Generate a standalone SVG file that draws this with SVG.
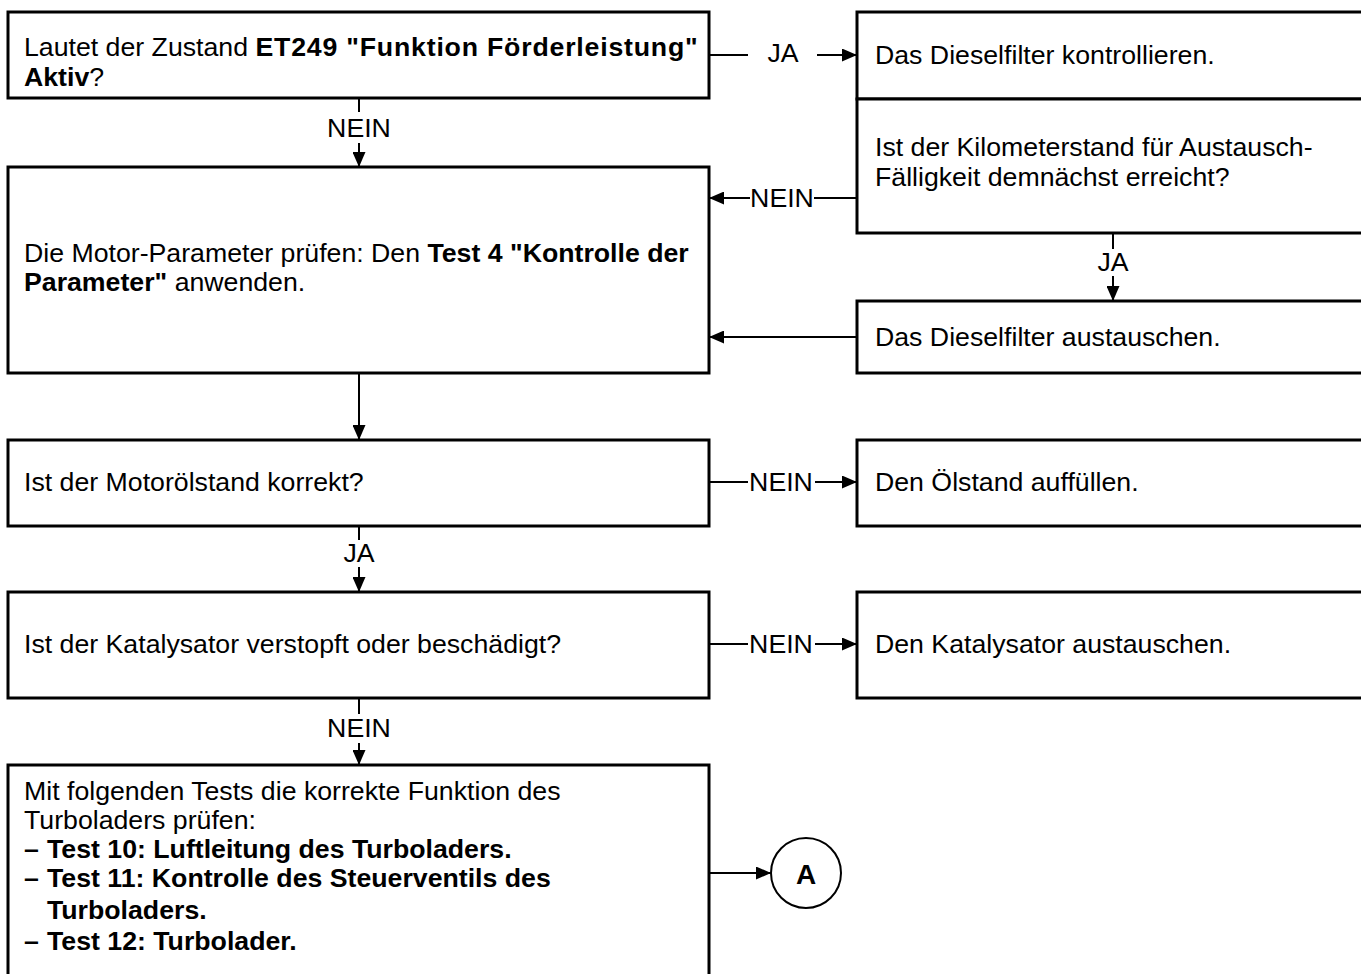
<svg xmlns="http://www.w3.org/2000/svg" width="1361" height="974" viewBox="0 0 1361 974">
  <style>
    .box { fill: #ffffff; stroke: #000000; stroke-width: 3; }
    .wire { fill: none; stroke: #000000; stroke-width: 2; }
    .t { font-family: "Liberation Sans", Arial, sans-serif; font-size: 26.7px; fill: #000000; }
    .b { font-weight: bold; }
    .lbl { font-family: "Liberation Sans", Arial, sans-serif; font-size: 26.7px; fill: #000000; text-anchor: middle; dominant-baseline: central; }
  </style>
  <defs>
    <marker id="head" viewBox="0 0 15 13" refX="15" refY="6.5" markerWidth="15" markerHeight="13" markerUnits="userSpaceOnUse" orient="auto">
      <path d="M0,0 L15,6.5 L0,13 Z" fill="#000000"/>
    </marker>
  </defs>
  <rect width="1361" height="974" fill="#ffffff"/>

  <!-- decision: ET249 state -->
  <g id="q-et249">
    <rect class="box" x="8" y="12" width="701" height="86"/>
    <text class="t" x="24" y="56">Lautet der Zustand <tspan class="b" style="letter-spacing:0.8px">ET249 "Funktion Förderleistung"</tspan></text>
    <text class="t" x="24" y="86"><tspan class="b">Aktiv</tspan>?</text>
  </g>

  <g id="a-filter-check">
    <rect class="box" x="857" y="12" width="520" height="87"/>
    <text class="t" x="875" y="64">Das Dieselfilter kontrollieren.</text>
  </g>

  <g id="q-mileage">
    <rect class="box" x="857" y="99" width="520" height="134"/>
    <text class="t" x="875" y="156">Ist der Kilometerstand für Austausch-</text>
    <text class="t" x="875" y="186">Fälligkeit demnächst erreicht?</text>
  </g>

  <g id="a-params">
    <rect class="box" x="8" y="167" width="701" height="206"/>
    <text class="t" x="24" y="262">Die Motor-Parameter prüfen: Den <tspan class="b">Test 4 "Kontrolle der</tspan></text>
    <text class="t" x="24" y="291"><tspan class="b">Parameter"</tspan> anwenden.</text>
  </g>

  <g id="a-filter-replace">
    <rect class="box" x="857" y="301" width="520" height="72"/>
    <text class="t" x="875" y="346">Das Dieselfilter austauschen.</text>
  </g>

  <g id="q-oil">
    <rect class="box" x="8" y="440" width="701" height="86"/>
    <text class="t" x="24" y="491">Ist der Motorölstand korrekt?</text>
  </g>

  <g id="a-oil">
    <rect class="box" x="857" y="440" width="520" height="86"/>
    <text class="t" x="875" y="491">Den Ölstand auffüllen.</text>
  </g>

  <g id="q-catalyst">
    <rect class="box" x="8" y="592" width="701" height="106"/>
    <text class="t" x="24" y="653">Ist der Katalysator verstopft oder beschädigt?</text>
  </g>

  <g id="a-catalyst">
    <rect class="box" x="857" y="592" width="520" height="106"/>
    <text class="t" x="875" y="653">Den Katalysator austauschen.</text>
  </g>

  <g id="a-turbo">
    <rect class="box" x="8" y="765" width="701" height="220"/>
    <text class="t" x="24" y="800">Mit folgenden Tests die korrekte Funktion des</text>
    <text class="t" x="24" y="829">Turboladers prüfen:</text>
    <text class="t b" x="24" y="858">–</text>
    <text class="t b" x="47" y="858">Test 10: Luftleitung des Turboladers.</text>
    <text class="t b" x="24" y="887">–</text>
    <text class="t b" x="47" y="887">Test 11: Kontrolle des Steuerventils des</text>
    <text class="t b" x="47" y="919">Turboladers.</text>
    <text class="t b" x="24" y="950">–</text>
    <text class="t b" x="47" y="950">Test 12: Turbolader.</text>
  </g>

  <g id="conn-a">
    <circle cx="806" cy="873" r="35" fill="#ffffff" stroke="#000000" stroke-width="2"/>
    <text class="lbl b" x="806" y="874" style="font-size:28px">A</text>
  </g>

  <g id="connectors">
    <!-- ET249 active -> check filter -->
    <path class="wire" d="M709,55 H748"/>
    <text class="lbl" x="783" y="53">JA</text>
    <path class="wire" d="M817,55 H857" marker-end="url(#head)"/>
    <!-- ET249 not active -> parameters -->
    <path class="wire" d="M359,98 V112"/>
    <text class="lbl" x="359" y="128">NEIN</text>
    <path class="wire" d="M359,143 V167" marker-end="url(#head)"/>
    <!-- mileage not reached -> parameters -->
    <path class="wire" d="M857,198 H814"/>
    <text class="lbl" x="782" y="198">NEIN</text>
    <path class="wire" d="M750,198 H709" marker-end="url(#head)"/>
    <!-- mileage reached -> replace filter -->
    <path class="wire" d="M1113,233 V249"/>
    <text class="lbl" x="1113" y="262">JA</text>
    <path class="wire" d="M1113,276 V301" marker-end="url(#head)"/>
    <!-- replace filter -> parameters -->
    <path class="wire" d="M857,337 H709" marker-end="url(#head)"/>
    <!-- parameters -> oil level -->
    <path class="wire" d="M359,373 V440" marker-end="url(#head)"/>
    <!-- oil level wrong -> top up -->
    <path class="wire" d="M709,482 H748"/>
    <text class="lbl" x="781" y="482">NEIN</text>
    <path class="wire" d="M815,482 H857" marker-end="url(#head)"/>
    <!-- oil level ok -> catalyst -->
    <path class="wire" d="M359,526 V540"/>
    <text class="lbl" x="359" y="553">JA</text>
    <path class="wire" d="M359,567 V592" marker-end="url(#head)"/>
    <!-- catalyst -> replace -->
    <path class="wire" d="M709,644 H748"/>
    <text class="lbl" x="781" y="644">NEIN</text>
    <path class="wire" d="M815,644 H857" marker-end="url(#head)"/>
    <!-- catalyst ok -> turbo tests -->
    <path class="wire" d="M359,698 V714"/>
    <text class="lbl" x="359" y="728">NEIN</text>
    <path class="wire" d="M359,743 V765" marker-end="url(#head)"/>
    <!-- turbo tests -> A -->
    <path class="wire" d="M709,873 H771" marker-end="url(#head)"/>
  </g>
</svg>
